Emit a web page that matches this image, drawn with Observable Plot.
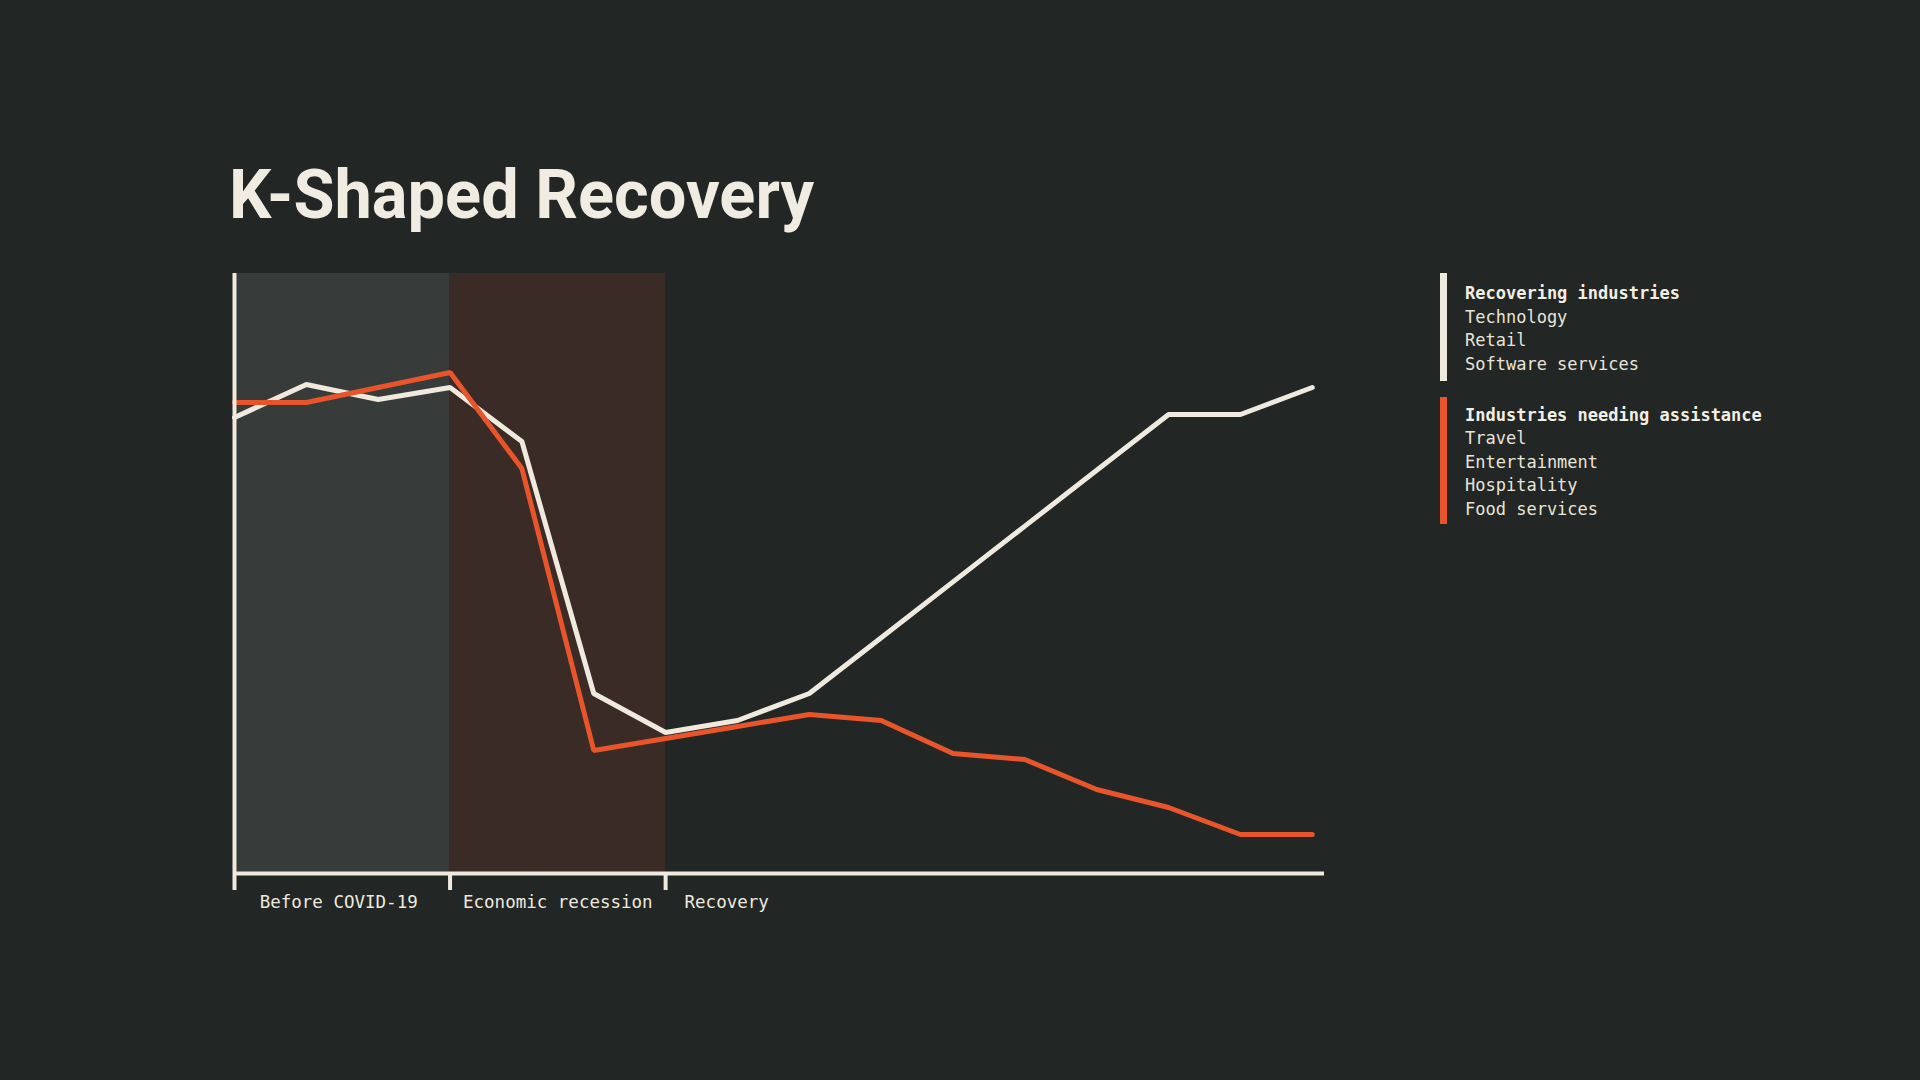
<!DOCTYPE html>
<html>
<head>
<meta charset="utf-8">
<script src="https://cdn.jsdelivr.net/npm/d3@7"></script>
<script src="https://cdn.jsdelivr.net/npm/@observablehq/plot@0.6"></script>
<style>
  html, body { margin: 0; padding: 0; background: #222625; width: 1920px; height: 1080px; overflow: hidden; }
  #chart { position: absolute; left: 0; top: 0; }
  #overlay { position: absolute; left: 0; top: 0; }
</style>
</head>
<body>
<div id="chart"></div>
<svg id="overlay" width="1920" height="1080"></svg>
<script>
// ---- data ----
const title = "K-Shaped Recovery";
const periods = ["Before COVID-19", "Economic recession", "Recovery"];
const periodStart = [0, 3, 6];
const periodEnd = [3, 6, 15];
const periodFill = ["#373b3a", "#3a2b26", "none"];
const periodLabelX = [1.45, 4.5, 6.85];
const steps = [0, 1, 2, 3, 4, 5, 6, 7, 8, 9, 10, 11, 12, 13, 14, 15];
const recovering = [76, 81.5, 79, 81, 72, 30, 23.5, 25.5, 30, 39.3, 48.6, 57.9, 67.2, 76.5, 76.5, 81];
const assistance = [78.5, 78.5, 81, 83.5, 67.5, 20.5, 22.5, 24.5, 26.5, 25.5, 20, 19, 14, 11, 6.5, 6.5];
const legendGroups = [
  { title: "Recovering industries", items: ["Technology", "Retail", "Software services"], color: "#efe9de" },
  { title: "Industries needing assistance", items: ["Travel", "Entertainment", "Hospitality", "Food services"], color: "#e8552a" }
];
const xMax = 15.17;

const cream = "#efe9de";
const orange = "#e8552a";
const monoFont = "DejaVu Sans Mono";

const bands = periods.map((p, i) => ({ name: p, start: periodStart[i], end: periodEnd[i], fill: periodFill[i] }))
  .filter(d => d.fill !== "none");
const labels = periods.map((p, i) => ({ name: p, x: periodLabelX[i] }));
const s1 = steps.map((t, i) => ({ t, v: recovering[i] }));
const s2 = steps.map((t, i) => ({ t, v: assistance[i] }));

const chart = Plot.plot({
  width: 1920,
  height: 1080,
  marginLeft: 234,
  marginRight: 596,
  marginTop: 273,
  marginBottom: 207,
  style: { background: "transparent", overflow: "visible" },
  x: { domain: [0, xMax], axis: null },
  y: { domain: [0, 100], axis: null },
  marks: [
    Plot.rect(bands, { x1: "start", x2: "end", y1: 0, y2: 100, fill: "fill" }),
    Plot.line(s1, { x: "t", y: "v", stroke: cream, strokeWidth: 5, strokeLinejoin: "miter" }),
    Plot.line(s2, { x: "t", y: "v", stroke: orange, strokeWidth: 5, strokeLinejoin: "miter" }),
    Plot.ruleX([0], { y1: 0, y2: 100, stroke: cream, strokeWidth: 4 }),
    Plot.ruleY([0], { x1: 0, x2: xMax, stroke: cream, strokeWidth: 4 }),
    Plot.axisX({ ticks: periodStart, tickSize: 17, tickFormat: () => "", stroke: cream, strokeWidth: 4, strokeOpacity: 1 }),
    Plot.text(labels, { x: "x", y: 0, dy: 29, text: "name", fill: cream, fontSize: 17.5, fontFamily: monoFont, textAnchor: "middle" })
  ]
});
document.getElementById("chart").appendChild(chart);

// ---- title & legend ----
const ov = d3.select("#overlay");
ov.append("text")
  .attr("x", 229).attr("y", 218)
  .attr("fill", "#f1ece2")
  .attr("font-family", "Roboto")
  .attr("font-weight", 700)
  .attr("font-size", 69)
  .attr("textLength", 585)
  .attr("lengthAdjust", "spacingAndGlyphs")
  .text(title);

const legendX = 1440, textX = 1465, pitch = 23.5;
const groupTops = [273, 397];
const textOffsets = [26, 23.5];
const barHeights = [108, 127];
legendGroups.forEach((g, gi) => {
  const top = groupTops[gi];
  ov.append("rect").attr("x", legendX).attr("y", top).attr("width", 7)
    .attr("height", barHeights[gi]).attr("fill", g.color);
  ov.append("text").attr("x", textX).attr("y", top + textOffsets[gi])
    .attr("fill", "#f3eee4").attr("font-family", monoFont).attr("font-weight", 700)
    .attr("font-size", 17).text(g.title);
  g.items.forEach((it, i) => {
    ov.append("text").attr("x", textX).attr("y", top + textOffsets[gi] + (i + 1) * pitch)
      .attr("fill", "#e9e4d9").attr("font-family", monoFont)
      .attr("font-size", 17).text(it);
  });
});
</script>
</body>
</html>
